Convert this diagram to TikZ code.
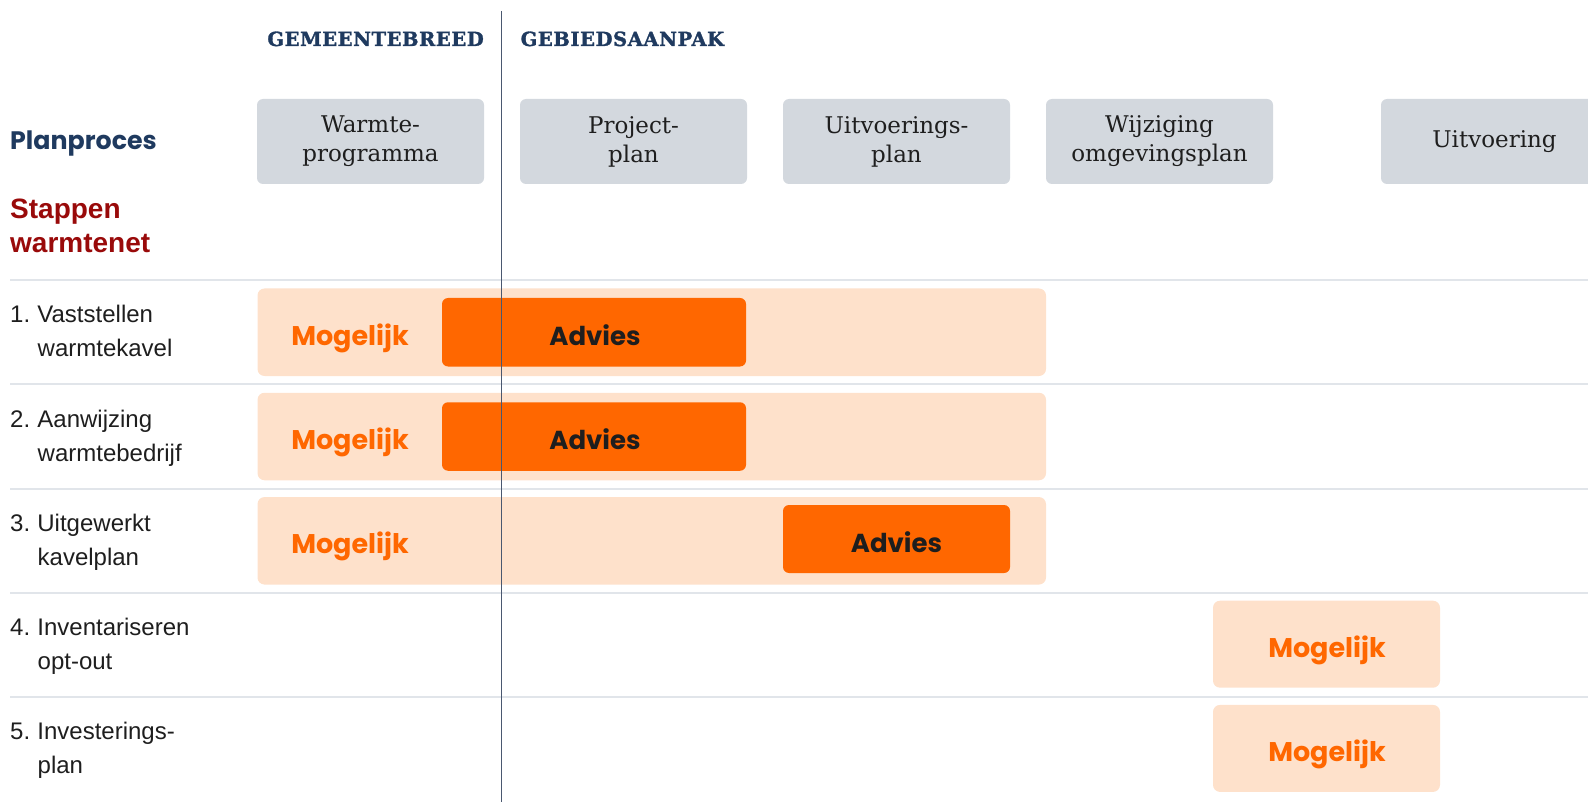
\documentclass[tikz,border=0pt]{standalone}
\usepackage{fontspec}
\newfontfamily\popf{Poppins}
\newfontfamily\libf{Liberation Sans}
\newfontfamily\slabf{DejaVu Serif}
\definecolor{navy}{HTML}{1F3A5F}
\definecolor{darkred}{HTML}{990A0A}
\definecolor{grayboxc}{HTML}{D3D8DE}
\definecolor{peachc}{HTML}{FEE1CB}
\definecolor{orangec}{HTML}{FF6700}
\definecolor{darktext}{HTML}{1E1E1E}
\definecolor{sepc}{HTML}{E1E5EA}
\definecolor{vlinec}{HTML}{4A5870}
\tikzset{
  phase/.style={fill=grayboxc, rounded corners=6, minimum width=227, minimum height=85,
    inner sep=0, align=center, font=\slabf\fontsize{23}{29}\selectfont, text=darktext},
  peachbox/.style={fill=peachc, rounded corners=7, inner sep=0},
  adviesbox/.style={fill=orangec, rounded corners=6, inner sep=0,
    font=\popf\bfseries\fontsize{26}{30}\selectfont, text=darktext},
  mog/.style={font=\popf\bfseries\fontsize{27}{30}\selectfont, text=orangec, inner sep=0,
    text height=19, text depth=0},
  sepline/.style={draw=sepc, line width=2},
  rowlab/.style={font=\libf\fontsize{24}{28}\selectfont, anchor=base west, inner sep=0, text=darktext},
  headc/.style={font=\slabf\bfseries\fontsize{19.5}{22}\selectfont\addfontfeatures{LetterSpace=3,FakeBold=1.5}, text=navy, inner sep=0},
}
\begin{document}
\begin{tikzpicture}[x=1pt,y=-1pt]
\useasboundingbox (0,0) rectangle (1588,802);
\clip (0,0) rectangle (1588,802);

% column headings
\node[headc, anchor=base east] (hgem) at (484,46) {GEMEENTEBREED};
\node[headc, anchor=base west] (hgeb) at (520.5,46) {GEBIEDSAANPAK};

% left titles
\node[font=\popf\bfseries\fontsize{25.3}{30}\selectfont, text=navy, anchor=base west, inner sep=0] (plan) at (10,150) {Planproces};
\node[font=\libf\bfseries\fontsize{28}{34}\selectfont, text=darkred, anchor=base west, inner sep=0] (stap1) at (10,219) {Stappen};
\node[font=\libf\bfseries\fontsize{28}{34}\selectfont, text=darkred, anchor=base west, inner sep=0] (stap2) at (10,253) {warmtenet};

% phase boxes
\node[phase] (ph1) at (370.5,141.5) {Warmte-\\programma};
\node[phase] (ph2) at (633.5,141.5) {Project-\\plan};
\node[phase] (ph3) at (896.5,141.5) {Uitvoerings-\\plan};
\node[phase] (ph4) at (1159.5,141.5) {Wijziging\\omgevingsplan};
\node[phase] (ph5) at (1494.5,141.5) {Uitvoering};

% separator lines
\foreach \i/\yy in {1/280,2/384.3,3/488.6,4/592.9,5/697.2}{
  \coordinate (sl\i) at (10,\yy);
  \coordinate (sr\i) at (1588,\yy);
  \draw[sepline] (sl\i) -- (sr\i);
}

% row labels
\node[rowlab] (r1a) at (10,322.7) {1.\hspace{0.3em}Vaststellen};
\node[rowlab] (r1b) at (37.5,356.7) {warmtekavel};
\node[rowlab] (r2a) at (10,427) {2.\hspace{0.3em}Aanwijzing};
\node[rowlab] (r2b) at (37.5,461) {warmtebedrijf};
\node[rowlab] (r3a) at (10,531.3) {3.\hspace{0.3em}Uitgewerkt};
\node[rowlab] (r3b) at (37.5,565.3) {kavelplan};
\node[rowlab] (r4a) at (10,635.6) {4.\hspace{0.3em}Inventariseren};
\node[rowlab] (r4b) at (37.5,669.6) {opt-out};
\node[rowlab] (r5a) at (10,739.9) {5.\hspace{0.3em}Investerings-};
\node[rowlab] (r5b) at (37.5,773.9) {plan};

% peach boxes
\node[peachbox, minimum width=788.5, minimum height=87.5] (p1) at (651.75,332.25) {};
\node[peachbox, minimum width=788.5, minimum height=87.5] (p2) at (651.75,436.5) {};
\node[peachbox, minimum width=788.5, minimum height=87.5] (p3) at (651.75,540.8) {};
\node[peachbox, minimum width=227, minimum height=87] (p4) at (1326.5,644.2) {};
\node[peachbox, minimum width=227, minimum height=87] (p5) at (1326.5,748.4) {};

% advies boxes
\node[adviesbox, minimum width=304, minimum height=68.5] (a1) at (594,332.25) {};
\node[adviesbox, minimum width=304, minimum height=68.5] (a2) at (594,436.5) {};
\node[adviesbox, minimum width=227, minimum height=68] (a3) at (896.5,539) {};
\node[adviesbox, fill=none, text height=19, text depth=0] (a1t) at (595,335.5) {Advies};
\node[adviesbox, fill=none, text height=19, text depth=0] (a2t) at (595,439.8) {Advies};
\node[adviesbox, fill=none, text height=19, text depth=0] (a3t) at (896.5,542.5) {Advies};

% mogelijk labels
\node[mog] (m1) at (350,335.8) {Mogelijk};
\node[mog] (m2) at (350,440.1) {Mogelijk};
\node[mog] (m3) at (350,544.4) {Mogelijk};
\node[mog] (m4) at (1327,648) {Mogelijk};
\node[mog] (m5) at (1327,752.3) {Mogelijk};

% vertical divider
\coordinate (vt) at (501.5,11);
\coordinate (vb) at (501.5,802);
\draw[draw=vlinec, line width=1.6] (vt) -- (vb);
\end{tikzpicture}
\end{document}
